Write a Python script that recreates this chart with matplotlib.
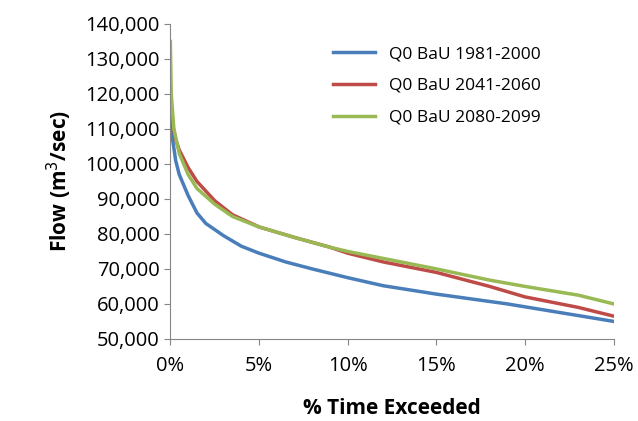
import matplotlib
matplotlib.use("Agg")
import matplotlib.pyplot as plt
from matplotlib.ticker import FuncFormatter, PercentFormatter

plt.rcParams['font.family'] = ['Open Sans', 'DejaVu Sans']

x_blue = [0, 0.001, 0.003, 0.005, 0.01, 0.015, 0.02, 0.03, 0.04, 0.05, 0.065, 0.08, 0.10, 0.12, 0.15, 0.19, 0.22, 0.25]
blue = [115000, 108000, 101000, 97000, 91000, 86000, 83000, 79500, 76500, 74500, 72000, 70000, 67500, 65200, 62800, 60000, 57500, 55000]

x_red = [0, 0.001, 0.003, 0.005, 0.01, 0.015, 0.025, 0.035, 0.05, 0.07, 0.09, 0.10, 0.12, 0.15, 0.18, 0.20, 0.23, 0.25]
red = [122000, 112000, 107000, 104000, 99000, 95000, 89500, 85500, 82000, 79000, 76200, 74500, 72000, 69000, 65000, 62000, 59000, 56500]

x_green = [0, 0.0005, 0.002, 0.005, 0.01, 0.015, 0.025, 0.035, 0.05, 0.07, 0.09, 0.10, 0.12, 0.15, 0.18, 0.20, 0.23, 0.25]
green = [135000, 120000, 110000, 103000, 97000, 93000, 88500, 85000, 82000, 79000, 76200, 75000, 73000, 70000, 66800, 65000, 62500, 60000]

fig, ax = plt.subplots(figsize=(6.38, 4.21), dpi=100)
fig.subplots_adjust(left=0.267, right=0.962, top=0.943, bottom=0.195)

ax.plot(x_blue, blue, color='#4a7ebb', lw=2.5, label='Q0 BaU 1981-2000')
ax.plot(x_red, red, color='#be4b48', lw=2.5, label='Q0 BaU 2041-2060')
ax.plot(x_green, green, color='#98b954', lw=2.5, label='Q0 BaU 2080-2099')

ax.set_xlim(0, 0.25)
ax.set_ylim(50000, 140000)
ax.set_xticks([0, 0.05, 0.10, 0.15, 0.20, 0.25])
ax.xaxis.set_major_formatter(PercentFormatter(1.0, decimals=0))
ax.set_yticks(range(50000, 140001, 10000))
ax.yaxis.set_major_formatter(FuncFormatter(lambda v, p: f'{int(v):,}'))
ax.tick_params(labelsize=14.5, length=4, color='#868686')
ax.tick_params(axis='x', pad=8)
for s in ['top', 'right']:
    ax.spines[s].set_visible(False)
for s in ['left', 'bottom']:
    ax.spines[s].set_color('#868686')

ax.set_xlabel('% Time Exceeded', fontsize=15, fontweight='bold', labelpad=16)
ax.set_ylabel('Flow (m$^3$/sec)', fontsize=15, fontweight='bold', labelpad=8)
ax.legend(loc='upper right', fontsize=12.5, frameon=False, handlelength=2.4, labelspacing=0.9,
          bbox_to_anchor=(0.87, 0.98))

fig.savefig('out.png', dpi=100)
